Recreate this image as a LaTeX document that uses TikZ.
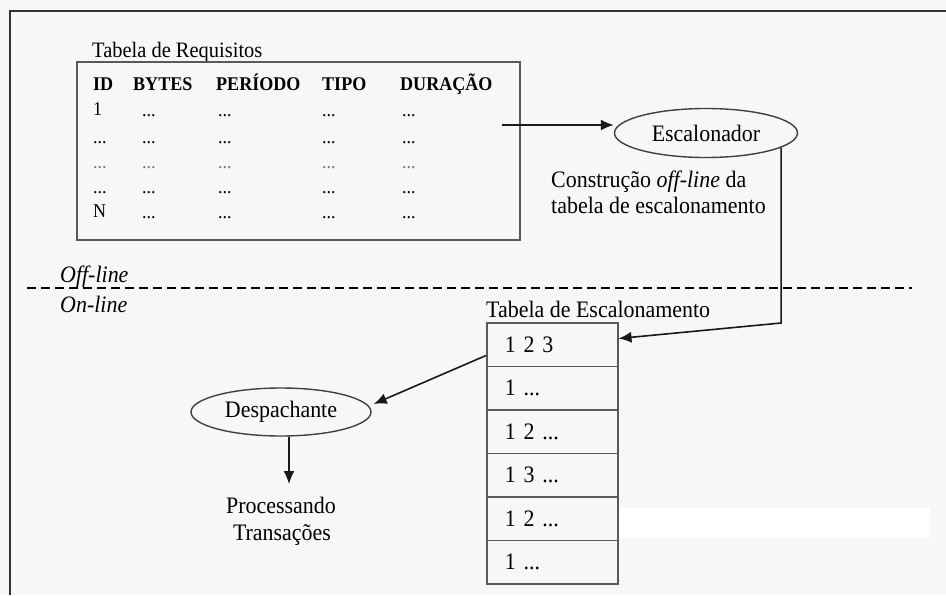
\documentclass[tikz,border=0pt]{standalone}
\usepackage{fontspec}
\setmainfont{Liberation Serif}[FakeStretch=0.93]
\usetikzlibrary{shapes.geometric,arrows.meta,calc}
\begin{document}
\begin{tikzpicture}[x=1pt,y=-1pt,
  every node/.style={font=\fontsize{23.6}{28}\selectfont, inner sep=0pt},
  tabtxt/.style={font=\fontsize{19.4}{22}\selectfont, anchor=base west},
  tabhead/.style={font=\fontsize{19.4}{22}\selectfont\bfseries, anchor=base west},
  boxln/.style={draw=black!65, line width=1.5pt},
  arr/.style={draw=black!90, line width=1.6pt, -{Latex[length=13pt,width=11pt]}},
  oval/.style={ellipse, draw=black!75, line width=1.4pt, inner sep=0pt},
  rowbox/.style={rectangle, boxln, minimum width=131pt, minimum height=43.5pt, text width=95pt, inner xsep=18pt, align=left, anchor=north west},
]
\useasboundingbox (0,0) rectangle (946,595);
\fill[black!3] (0,0) rectangle (946,595);
\fill[white] (617,508) rectangle (930,538);
\draw[line width=2.5pt, black!80] (946,11) -- (10,11) -- (10,595);

% Tabela de Requisitos
\node[anchor=base west, font=\fontsize{22}{26}\selectfont] (treqlbl) at (92,57) {Tabela de Requisitos};
\node[boxln, rectangle, minimum width=443pt, minimum height=178pt, anchor=north west] (req) at (76,61) {};
\node[tabhead] (hid) at (93,90.5) {ID};
\node[tabhead] (hby) at (133,90.5) {BYTES};
\node[tabhead] (hpe) at (216,90.5) {PERÍODO};
\node[tabhead] (hti) at (322,90.5) {TIPO};
\node[tabhead] (hdu) at (400,90.5) {DURAÇÃO};
\node[tabtxt] (r1id) at (93,115) {1};
\node[tabtxt] (r2id) at (93,143) {...};
\node[tabtxt, text=black!55] (r3id) at (93,168) {...};
\node[tabtxt] (r4id) at (93,193) {...};
\node[tabtxt] (r5id) at (93,217) {N};
\foreach \yy [count=\r] in {116,143,168,193,218}{
  \foreach \xx [count=\c] in {142,218,322,402}{
    \ifnum\r=3
      \node[tabtxt, text=black!55] (d\r\c) at (\xx,\yy) {...};
    \else
      \node[tabtxt] (d\r\c) at (\xx,\yy) {...};
    \fi
  }
}

% Escalonador
\node[oval, minimum width=183pt, minimum height=49pt] (esc) at (706,133) {Escalonador};
\coordinate (a0) at (502,125);
\draw[arr] (a0) -- (a0 -| esc.west);
\node[anchor=base west] (cap1) at (551,187) {Construção \textit{off-line} da};
\node[anchor=base west] (cap2) at (551,213) {tabela de escalonamento};

% divider
\coordinate (dl) at (27,288);
\coordinate (dr) at (912,288);
\draw[line width=2.4pt, dash pattern=on 9pt off 5pt] (dl) -- (dr);
\node[anchor=base west, font=\fontsize{23.6}{28}\selectfont\itshape] (off) at (60,282) {Off-line};
\node[anchor=base west, font=\fontsize{23.6}{28}\selectfont\itshape] (on) at (60,312) {On-line};

% Tabela de Escalonamento
\node[anchor=base west] (tesc) at (486,317) {Tabela de Escalonamento};
\node[rowbox] (t1) at (486,322) {1 2 3};
\node[rowbox] (t2) at (486,365.5) {1 ...};
\node[rowbox] (t3) at (486,409) {1 2 ...};
\node[rowbox] (t4) at (486,452.5) {1 3 ...};
\node[rowbox] (t5) at (486,496) {1 2 ...};
\node[rowbox] (t6) at (486,539.5) {1 ...};

\coordinate (bend) at (781,323);
\draw[arr] (esc.-11) -- (esc.-11 |- bend) -- ([yshift=6pt]t1.east);

% Despachante
\node[oval, minimum width=180pt, minimum height=48pt] (desp) at (281,412) {Despachante};
\draw[arr] ([yshift=-11pt]t1.west) -- ([xshift=2pt,yshift=8pt]desp.east);
\node[anchor=base] (proc1) at (281,513) {Processando};
\node[anchor=base] (proc2) at (282,540) {Transações};
\coordinate (pend) at (289,484);
\draw[arr] ([xshift=8pt]desp.south) -- (pend);
\end{tikzpicture}
\end{document}
